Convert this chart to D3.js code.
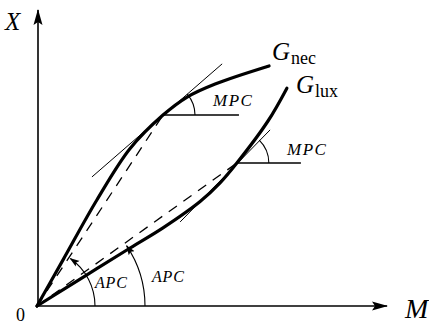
<!DOCTYPE html>
<html><head><meta charset="utf-8">
<script src="https://cdn.jsdelivr.net/npm/d3@7"></script>
<style>body{margin:0;background:#fff}svg{display:block}</style>
</head><body>
<svg id="c" width="429" height="325"></svg>
<script>
// ---- data (M = income, X = expenditure on good) ----
const necM = [0, 7.4, 17.1, 26.6, 36, 42.9, 50.9, 66.3];
const necX = [0, 15.5, 35.8, 53.2, 64.5, 70.6, 75, 81.1];
const luxM = [0, 13.7, 26.6, 36, 46.6, 52.3, 57.1, 66, 71.4];
const luxX = [0, 10.1, 19.6, 26.4, 35.3, 41.6, 48.3, 62.5, 73.6];
const curveNames = ["nec", "lux"];
const tangencyM = [36, 57.1];
const tangencyX = [64.5, 48.3];
const tangentStartM = [15.7, 40.9];
const tangentStartX = [43.6, 28.4];
const tangentEndM = [52.9, 66.6];
const tangentEndX = [81.8, 59.5];
const mpcEndM = [57.7, 75.4];
const axisLabels = ["X", "M", "0"];
const angleLabels = ["MPC", "APC"];

const svg = d3.select("#c");
const x = d3.scaleLinear().domain([0, 100]).range([37, 387]);
const y = d3.scaleLinear().domain([0, 100]).range([306, 10]);
const ox = x(0), oy = y(0);

const defs = svg.append("defs");
defs.append("marker").attr("id", "ax").attr("viewBox", "0 0 16 10")
  .attr("refX", 15).attr("refY", 5).attr("markerWidth", 16).attr("markerHeight", 10)
  .attr("markerUnits", "userSpaceOnUse").attr("orient", "auto")
  .append("path").attr("d", "M0,0.5L16,5L0,9.5L3,5Z").attr("fill", "#000");
defs.append("marker").attr("id", "sm").attr("viewBox", "0 0 10 8")
  .attr("refX", 9).attr("refY", 4).attr("markerWidth", 10).attr("markerHeight", 8)
  .attr("markerUnits", "userSpaceOnUse").attr("orient", "auto")
  .append("path").attr("d", "M0,0.5L10,4L0,7.5L2,4Z").attr("fill", "#000");

// axes
svg.append("line").attr("x1", ox).attr("y1", oy).attr("x2", x(100)).attr("y2", oy)
  .attr("stroke", "#000").attr("stroke-width", 1.6).attr("marker-end", "url(#ax)");
svg.append("line").attr("x1", ox + 1).attr("y1", oy).attr("x2", ox + 1).attr("y2", y(100))
  .attr("stroke", "#000").attr("stroke-width", 1.6).attr("marker-end", "url(#ax)");

// dashed rays origin -> tangency points
curveNames.forEach((n, i) => {
  svg.append("line").attr("x1", ox).attr("y1", oy)
    .attr("x2", x(tangencyM[i])).attr("y2", y(tangencyX[i]))
    .attr("stroke", "#000").attr("stroke-width", 1.3).attr("stroke-dasharray", "10,8");
});

// tangent lines + MPC bases
curveNames.forEach((n, i) => {
  svg.append("line").attr("x1", x(tangentStartM[i])).attr("y1", y(tangentStartX[i]))
    .attr("x2", x(tangentEndM[i])).attr("y2", y(tangentEndX[i]))
    .attr("stroke", "#000").attr("stroke-width", 1);
  svg.append("line").attr("x1", x(tangencyM[i])).attr("y1", y(tangencyX[i]))
    .attr("x2", x(mpcEndM[i])).attr("y2", y(tangencyX[i]))
    .attr("stroke", "#000").attr("stroke-width", 1.5);
});

// curves
const line = d3.line().x(d => x(d[0])).y(d => y(d[1])).curve(d3.curveCatmullRom.alpha(0.5));
const series = [d3.zip(necM, necX), d3.zip(luxM, luxX)];
series.forEach(s => {
  svg.append("path").attr("d", line(s)).attr("fill", "none")
    .attr("stroke", "#000").attr("stroke-width", 3.2).attr("stroke-linecap", "round");
});

function arcPath(cx, cy, r, theta) {
  const p = d3.path();
  p.moveTo(cx + r, cy);
  p.arc(cx, cy, r, 0, -theta, true);
  return p.toString();
}

// MPC arcs
curveNames.forEach((n, i) => {
  const cx = x(tangencyM[i]), cy = y(tangencyX[i]);
  const th = Math.atan2(y(tangentStartX[i]) - y(tangentEndX[i]), x(tangentEndM[i]) - x(tangentStartM[i]));
  svg.append("path").attr("d", arcPath(cx, cy, 32, th)).attr("fill", "none")
    .attr("stroke", "#000").attr("stroke-width", 1.1);
});

// APC arcs
const apcR = [58, 108];
curveNames.forEach((n, i) => {
  const th = Math.atan2(oy - y(tangencyX[i]), x(tangencyM[i]) - ox);
  svg.append("path").attr("d", arcPath(ox, oy, apcR[i], th - 0.03)).attr("fill", "none")
    .attr("stroke", "#000").attr("stroke-width", 1.1).attr("marker-end", "url(#sm)");
});

// text
const serif = "'Liberation Serif','Times New Roman',serif";
function txt(s, tx, ty, size, italic, ls) {
  return svg.append("text").attr("x", tx).attr("y", ty).text(s)
    .attr("font-family", serif).attr("font-size", size)
    .attr("font-style", italic ? "italic" : "normal")
    .attr("letter-spacing", ls || 0).attr("fill", "#000");
}
txt(axisLabels[0], 5, 30, 25, true);
txt(axisLabels[1], 405, 318, 28, true);
txt(axisLabels[2], 16, 321, 18, false);

// curve labels
const gPos = [[272, 60], [296, 93]];
curveNames.forEach((n, i) => {
  const t = svg.append("text").attr("x", gPos[i][0]).attr("y", gPos[i][1])
    .attr("font-family", serif).attr("fill", "#000");
  t.append("tspan").text("G").attr("font-size", 25).attr("font-style", "italic");
  t.append("tspan").text(n).attr("font-size", 18).attr("dy", 4).attr("dx", 1);
});

// angle labels
txt(angleLabels[0], 213, 106, 17, true, 1.5);
txt(angleLabels[0], 287, 155, 17, true, 1.5);
txt(angleLabels[1], 95, 288, 16, true, 0.8);
txt(angleLabels[1], 152, 282, 16, true, 0.8);
</script>
</body></html>
